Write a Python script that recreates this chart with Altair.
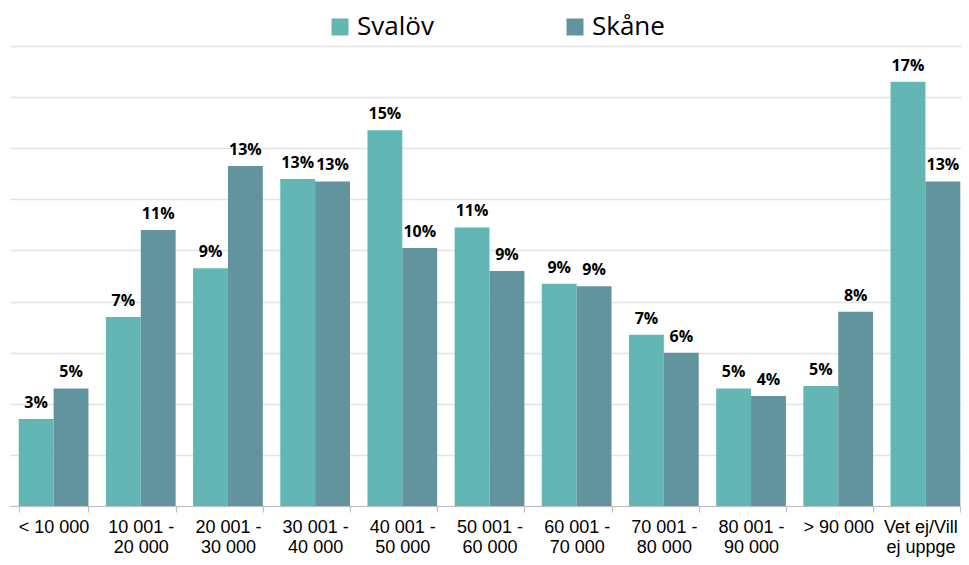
import altair as alt
import pandas as pd

categories = ["< 10 000", "10 001 -|20 000", "20 001 -|30 000", "30 001 -|40 000",
              "40 001 -|50 000", "50 001 -|60 000", "60 001 -|70 000", "70 001 -|80 000",
              "80 001 -|90 000", "> 90 000", "Vet ej/Vill|ej uppge"]
series = ["Svalöv", "Skåne"]
svalov = [3.4, 7.4, 9.3, 12.8, 14.7, 10.9, 8.7, 6.7, 4.6, 4.7, 16.6]
skane = [4.6, 10.8, 13.3, 12.7, 10.1, 9.2, 8.6, 6.0, 4.3, 7.6, 12.7]
svalov_labels = ["3%", "7%", "9%", "13%", "15%", "11%", "9%", "7%", "5%", "5%", "17%"]
skane_labels = ["5%", "11%", "13%", "13%", "10%", "9%", "9%", "6%", "4%", "8%", "13%"]
colors = ["#62b7b4", "#62949e"]

rows = []
for i, c in enumerate(categories):
    rows.append({"cat": c, "series": series[0], "value": svalov[i], "label": svalov_labels[i]})
    rows.append({"cat": c, "series": series[1], "value": skane[i], "label": skane_labels[i]})
df = pd.DataFrame(rows)

last_cat = categories[-1]

base = alt.Chart(df).encode(
    x=alt.X("cat:N", sort=categories,
            scale=alt.Scale(paddingInner=0.2, paddingOuter=0.1, range=[0, 959]),
            axis=alt.Axis(title=None, labelAngle=0, labelExpr="split(datum.label, '|')",
                          tickBand="extent", labelFont="Liberation Sans", labelFontSize=18,
                          labelLineHeight=20, labelColor="#000000", labelPadding=6,
                          labelOffset={"condition": {"test": f"datum.value == '{last_cat}'",
                                                     "value": -5}, "value": 0},
                          tickSize=6, tickColor="#bfbfbf", domainColor="#bfbfbf",
                          domainWidth=1.2, tickWidth=1.2, grid=False)),
    xOffset=alt.XOffset("series:N", sort=series,
                        scale=alt.Scale(paddingInner=0, paddingOuter=0)),
    y=alt.Y("value:Q", scale=alt.Scale(domain=[0, 18], nice=False),
            axis=alt.Axis(title=None, values=list(range(0, 19, 2)), labels=False,
                          ticks=False, domain=False, grid=True, gridColor="#e4e4e4",
                          gridWidth=1.5)),
)

bars = base.mark_bar().encode(
    color=alt.Color("series:N", sort=series,
                    scale=alt.Scale(domain=series, range=colors),
                    legend=alt.Legend(title=None, orient="none", legendX=317, legendY=-32,
                                      direction="horizontal", symbolType="square",
                                      symbolSize=289, symbolStrokeWidth=0,
                                      labelFont="Open Sans", labelFontSize=26,
                                      labelColor="#000000", labelOffset=4,
                                      columnPadding=128, padding=0))
)

text = base.mark_text(baseline="alphabetic", dy=-11, font="Open Sans",
                      fontWeight="bold", fontSize=16, color="#000000").encode(
    text="label:N"
)

chart = (bars + text).properties(
    width=951, height=460,
    autosize=alt.AutoSizeParams(type="none"),
    padding={"left": 2, "top": 38, "right": 0, "bottom": 51},
).configure_view(stroke=None)

chart.save("out.html", embed_options={"renderer": "svg", "actions": False})
